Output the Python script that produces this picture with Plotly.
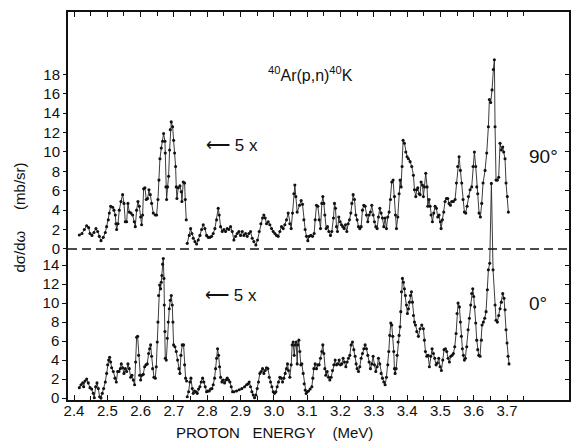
import plotly.graph_objects as go

# ---- data: 90 degree excitation function (top panel) ----
SEG90_A = [(2.416,1.44),(2.424,1.6),(2.431,2.0),(2.438,2.4),(2.444,2.2),(2.448,1.6),(2.454,1.4),(2.46,1.7),(2.466,2.1),(2.471,1.8),(2.476,1.3),(2.481,0.86),(2.488,1.2),(2.494,1.7),(2.498,2.3),(2.503,3.0),(2.506,3.7),(2.51,4.4),(2.516,4.3),(2.52,4.0),(2.524,3.5),(2.526,2.6),(2.528,2.0),(2.532,2.6),(2.536,4.0),(2.541,4.9),(2.546,5.6),(2.55,4.7),(2.554,2.8),(2.558,2.8),(2.562,4.7),(2.566,3.8),(2.571,3.7),(2.576,3.5),(2.581,2.8),(2.584,2.3),(2.588,4.0),(2.592,4.9),(2.596,4.4),(2.6,3.3),(2.603,2.5),(2.606,3.5),(2.609,6.2),(2.613,6.3),(2.617,5.1),(2.621,5.2),(2.625,6.1),(2.629,5.6),(2.633,4.7),(2.638,3.7),(2.644,3.5),(2.648,3.5),(2.652,5.1),(2.655,7.1),(2.658,9.3),(2.662,10.4),(2.666,11.1),(2.669,11.9),(2.673,11.1),(2.674,9.9),(2.676,6.4),(2.678,5.1),(2.681,6.4),(2.684,7.5),(2.687,10.2),(2.689,12.3),(2.692,13.1),(2.696,12.6),(2.699,11.2),(2.702,9.9),(2.705,8.5),(2.707,6.4),(2.709,5.2),(2.713,6.3),(2.718,6.5),(2.722,5.9),(2.724,4.9),(2.728,6.9),(2.732,6.8),(2.734,5.1),(2.737,3.0)]

SEG90_B = [(2.74,0.58),(2.746,1.4),(2.75,2.1),(2.754,1.6),(2.758,1.1),(2.763,0.76),(2.768,0.52),(2.773,0.93),(2.778,1.4),(2.783,2.0),(2.788,2.5),(2.793,2.1),(2.798,1.4),(2.803,1.2),(2.808,1.2),(2.813,1.3),(2.818,1.6),(2.823,2.1),(2.828,3.0),(2.833,4.2),(2.836,3.5),(2.84,2.3),(2.845,1.8),(2.85,2.0),(2.855,1.8),(2.86,2.1),(2.865,2.0),(2.87,2.3),(2.875,1.8),(2.88,0.93),(2.885,1.3),(2.89,1.6),(2.895,1.8),(2.9,1.4),(2.905,1.8),(2.91,1.4),(2.915,1.6),(2.92,1.3),(2.925,1.6),(2.93,1.8),(2.935,1.1),(2.94,0.76),(2.946,0.41),(2.951,0.93),(2.956,1.8),(2.961,2.6),(2.966,3.2),(2.97,3.5),(2.974,3.2),(2.978,2.6),(2.983,2.8),(2.988,2.5),(2.993,2.1),(2.998,1.8),(3.003,1.6),(3.008,1.4),(3.013,1.3),(3.018,1.8),(3.023,2.3),(3.028,2.1),(3.033,2.5),(3.038,3.0),(3.043,3.7),(3.048,2.6),(3.052,2.1),(3.056,3.7),(3.06,5.7),(3.063,6.6),(3.066,5.4),(3.07,3.8),(3.077,4.5),(3.082,5.0),(3.086,4.6),(3.09,3.0),(3.094,2.0),(3.098,1.3),(3.102,0.86),(3.106,1.3),(3.111,1.4),(3.116,1.3),(3.121,1.6),(3.124,3.0),(3.128,4.5),(3.132,4.4),(3.136,3.0),(3.14,2.1),(3.144,4.7),(3.147,5.4),(3.15,4.7),(3.153,3.5),(3.157,2.1),(3.161,2.3),(3.165,1.8),(3.17,1.4),(3.174,1.8),(3.179,3.2),(3.182,4.7),(3.185,4.2),(3.188,2.3),(3.191,1.8),(3.195,3.3),(3.199,2.8),(3.203,2.5),(3.207,2.3),(3.211,2.1),(3.215,2.5),(3.219,1.8),(3.223,2.6),(3.227,3.0),(3.231,3.7),(3.234,4.7),(3.238,5.6),(3.242,5.1),(3.246,3.5),(3.25,3.0),(3.254,2.3),(3.258,2.1),(3.262,2.3),(3.266,4.0),(3.27,4.5),(3.274,4.4),(3.278,3.5),(3.282,2.8),(3.286,3.5),(3.29,3.8),(3.294,4.5),(3.298,3.5),(3.302,2.8),(3.306,2.3),(3.31,2.1),(3.314,3.3),(3.318,4.2),(3.322,3.7),(3.326,3.2),(3.33,2.3),(3.334,3.2),(3.338,2.1),(3.342,3.3),(3.346,3.8),(3.35,5.1),(3.354,6.9),(3.358,7.1),(3.362,5.4),(3.365,3.5),(3.368,2.1),(3.372,3.3),(3.376,5.7),(3.379,7.1),(3.382,6.4),(3.385,8.5),(3.388,11.2),(3.392,10.9),(3.396,10.0),(3.4,9.5),(3.404,9.3),(3.409,9.0),(3.414,8.5),(3.419,7.6),(3.422,6.1),(3.426,5.4),(3.429,6.1),(3.432,6.3),(3.436,5.7),(3.439,5.6),(3.442,6.9),(3.446,6.6),(3.449,5.4),(3.452,6.4),(3.456,7.8),(3.46,6.4),(3.462,4.4),(3.466,5.1),(3.469,4.4),(3.472,3.5),(3.476,2.8),(3.48,3.7),(3.484,4.4),(3.488,4.2),(3.492,3.3),(3.496,3.5),(3.5,2.8),(3.502,2.1),(3.506,3.0),(3.51,3.8),(3.514,4.9),(3.518,5.2),(3.522,5.2),(3.526,4.7),(3.53,4.5),(3.534,4.9),(3.539,4.9),(3.544,5.1),(3.548,6.8),(3.552,8.5),(3.556,9.5),(3.56,8.1),(3.564,6.8),(3.568,5.1),(3.572,3.8),(3.576,3.7),(3.58,4.4),(3.584,5.4),(3.589,6.1),(3.594,6.4),(3.598,8.5),(3.602,10.0),(3.606,8.5),(3.609,6.4),(3.612,5.7),(3.616,3.7),(3.62,3.3),(3.624,4.7),(3.628,6.8),(3.634,8.1),(3.639,9.9),(3.644,12.6),(3.647,15.4),(3.651,15.1),(3.655,16.4),(3.659,18.5),(3.662,19.5),(3.664,12.6),(3.667,7.1),(3.671,7.1),(3.675,7.4),(3.679,10.9),(3.683,10.2),(3.687,10.5),(3.69,10.0),(3.694,9.3),(3.697,6.8),(3.701,5.4),(3.704,3.8)]

# ---- data: 0 degree excitation function (bottom panel) ----
SEG0_A = [(2.416,1.1),(2.421,1.4),(2.426,1.6),(2.429,1.2),(2.433,1.8),(2.438,2.0),(2.443,1.6),(2.448,1.1),(2.453,0.95),(2.458,0.5),(2.461,0.04),(2.465,1.2),(2.469,1.6),(2.473,1.0),(2.477,0.14),(2.481,0.0),(2.485,0.5),(2.489,1.0),(2.494,1.7),(2.498,2.6),(2.501,3.5),(2.504,4.0),(2.507,4.3),(2.51,3.8),(2.513,3.2),(2.518,2.8),(2.523,2.1),(2.527,1.7),(2.531,2.8),(2.535,2.8),(2.539,3.1),(2.542,3.6),(2.546,3.2),(2.55,2.6),(2.554,3.1),(2.558,2.8),(2.562,3.6),(2.566,3.1),(2.57,2.2),(2.574,2.4),(2.578,1.9),(2.582,1.4),(2.585,3.8),(2.588,6.4),(2.591,6.5),(2.594,4.5),(2.597,2.4),(2.6,1.9),(2.604,2.4),(2.608,2.5),(2.612,3.3),(2.616,3.5),(2.62,3.6),(2.624,4.7),(2.627,5.2),(2.63,5.6),(2.633,4.4),(2.636,3.1),(2.64,2.2),(2.644,2.1),(2.647,3.3),(2.65,5.9),(2.652,8.0),(2.654,10.8),(2.657,11.9),(2.66,11.5),(2.662,12.2),(2.664,12.9),(2.666,14.1),(2.668,14.7),(2.67,12.6),(2.671,9.8),(2.673,7.0),(2.674,4.2),(2.677,4.0),(2.68,6.3),(2.683,8.0),(2.686,9.4),(2.689,10.3),(2.692,10.8),(2.695,9.8),(2.697,8.0),(2.699,5.6),(2.703,5.4),(2.707,4.9),(2.711,4.0),(2.715,3.1),(2.718,2.6),(2.721,4.5),(2.725,5.6),(2.729,5.6),(2.732,3.5),(2.735,2.1),(2.738,1.8)]

SEG0_B = [(2.74,0.14),(2.744,0.67),(2.748,1.7),(2.751,2.1),(2.755,1.0),(2.758,0.5),(2.762,0.74),(2.766,0.67),(2.77,0.5),(2.774,0.95),(2.778,1.2),(2.782,1.7),(2.786,2.1),(2.79,1.7),(2.794,1.2),(2.798,0.67),(2.802,0.74),(2.806,0.74),(2.81,0.95),(2.814,1.0),(2.818,1.4),(2.822,2.1),(2.825,3.1),(2.828,4.2),(2.831,5.2),(2.834,4.5),(2.837,3.3),(2.84,2.2),(2.844,1.7),(2.848,1.9),(2.852,1.6),(2.856,1.9),(2.86,2.1),(2.864,1.9),(2.868,1.7),(2.872,1.2),(2.876,0.67),(2.88,0.67),(2.888,0.74),(2.896,0.88),(2.904,1.0),(2.912,1.2),(2.918,1.4),(2.923,1.5),(2.926,1.7),(2.93,1.2),(2.934,0.67),(2.938,0.32),(2.942,0.04),(2.946,0.32),(2.95,1.0),(2.954,1.7),(2.958,2.6),(2.962,2.8),(2.966,3.1),(2.97,2.6),(2.974,2.9),(2.978,3.2),(2.982,3.1),(2.986,2.2),(2.99,1.7),(2.994,1.2),(2.998,0.67),(3.002,0.5),(3.006,0.67),(3.01,1.2),(3.014,1.7),(3.018,2.2),(3.022,2.1),(3.026,1.7),(3.03,2.1),(3.034,2.6),(3.038,3.1),(3.041,3.6),(3.044,2.9),(3.048,2.2),(3.052,3.5),(3.055,5.6),(3.058,5.9),(3.061,4.5),(3.064,5.6),(3.067,5.9),(3.07,3.6),(3.072,5.6),(3.075,6.1),(3.078,4.9),(3.081,3.5),(3.084,3.6),(3.088,2.6),(3.091,1.5),(3.094,0.84),(3.097,0.49),(3.1,0.67),(3.104,0.74),(3.109,0.95),(3.114,1.2),(3.117,2.1),(3.12,3.1),(3.124,3.6),(3.128,3.1),(3.132,3.5),(3.136,3.5),(3.14,4.2),(3.144,4.9),(3.147,5.6),(3.15,4.7),(3.153,3.1),(3.156,2.4),(3.16,2.8),(3.164,2.2),(3.168,1.9),(3.172,2.2),(3.176,2.9),(3.18,3.5),(3.184,4.0),(3.188,3.5),(3.192,3.6),(3.196,4.0),(3.2,3.5),(3.204,3.6),(3.208,4.2),(3.212,3.8),(3.216,3.3),(3.22,3.8),(3.224,4.2),(3.228,4.5),(3.232,5.6),(3.236,5.9),(3.24,5.1),(3.244,4.4),(3.247,3.6),(3.25,3.1),(3.254,2.8),(3.258,3.3),(3.262,4.2),(3.266,4.7),(3.27,5.2),(3.274,5.6),(3.278,5.2),(3.282,4.5),(3.286,3.8),(3.29,3.1),(3.294,3.6),(3.298,4.4),(3.302,3.5),(3.306,2.8),(3.31,3.3),(3.314,4.2),(3.318,3.6),(3.322,2.6),(3.326,2.1),(3.33,1.7),(3.334,1.4),(3.338,2.2),(3.342,3.5),(3.345,4.9),(3.348,6.6),(3.351,7.9),(3.354,7.7),(3.357,6.5),(3.36,4.9),(3.362,3.1),(3.364,2.6),(3.367,3.1),(3.37,4.5),(3.373,5.9),(3.376,6.6),(3.379,7.5),(3.381,9.1),(3.383,11.2),(3.386,12.6),(3.389,12.2),(3.392,11.5),(3.395,10.8),(3.398,9.8),(3.401,8.9),(3.404,9.4),(3.407,10.1),(3.41,10.8),(3.413,11.2),(3.416,10.1),(3.419,8.7),(3.422,8.0),(3.425,7.7),(3.429,7.0),(3.434,6.5),(3.439,7.3),(3.444,7.7),(3.449,7.3),(3.452,6.1),(3.455,4.9),(3.459,4.4),(3.463,4.5),(3.467,3.3),(3.471,4.4),(3.475,5.2),(3.479,4.7),(3.483,4.2),(3.487,3.5),(3.491,3.7),(3.495,4.2),(3.499,3.3),(3.503,2.9),(3.507,4.0),(3.511,5.1),(3.515,5.2),(3.519,4.9),(3.523,4.2),(3.527,3.8),(3.531,4.4),(3.535,4.5),(3.539,4.7),(3.543,5.4),(3.547,6.8),(3.55,8.9),(3.553,10.0),(3.557,9.6),(3.56,8.0),(3.563,6.5),(3.566,5.2),(3.569,4.5),(3.572,4.0),(3.575,4.2),(3.579,5.4),(3.583,7.2),(3.587,8.4),(3.591,9.8),(3.594,11.0),(3.597,11.5),(3.6,10.7),(3.603,9.6),(3.606,7.9),(3.609,6.1),(3.612,5.1),(3.615,4.5),(3.619,4.4),(3.623,6.1),(3.625,7.7),(3.629,8.0),(3.633,8.4),(3.637,9.1),(3.641,11.4),(3.644,13.5),(3.648,14.2),(3.653,22.6),(3.658,13.5),(3.664,9.8),(3.667,8.2),(3.671,8.0),(3.675,8.7),(3.679,9.4),(3.683,10.1),(3.687,11.0),(3.691,10.5),(3.694,9.3),(3.697,7.2),(3.7,5.8),(3.703,4.4),(3.706,3.6)]

X_TICKS = [2.4, 2.5, 2.6, 2.7, 2.8, 2.9, 3.0, 3.1, 3.2, 3.3, 3.4, 3.5, 3.6, 3.7]
X_TICK_TEXT = ["2.4", "2.5", "2.6", "2.7", "2.8", "2.9", "3.0", "3.1", "3.2", "3.3", "3.4", "3.5", "3.6", "3.7"]
X_MINOR = [2.45, 2.55, 2.65, 2.75, 2.85, 2.95, 3.05, 3.15, 3.25, 3.35, 3.45, 3.55, 3.65, 3.75]
Y0_TICKS = [0, 2, 4, 6, 8, 10, 12, 14]
Y90_TICKS = [0, 2, 4, 6, 8, 10, 12, 14, 16, 18]

FONT = "Liberation Sans"
INK = "#111111"
X_RANGE = [2.382, 3.886]
Y0_RANGE = [-0.2, 40.64]
Y90_RANGE = [-15.57, 24.43]

fig = go.Figure()

def add_seg(seg, yaxis):
    xs = [p[0] for p in seg]
    ys = [p[1] for p in seg]
    fig.add_trace(go.Scatter(
        x=xs, y=ys, yaxis=yaxis, mode="lines+markers",
        line=dict(color="#262626", width=0.9),
        marker=dict(color=INK, size=3.1),
        showlegend=False, hoverinfo="skip", cliponaxis=False))

add_seg(SEG90_A, "y2")
add_seg(SEG90_B, "y2")
add_seg(SEG0_A, "y")
add_seg(SEG0_B, "y")

# dummy traces so the extra tick-only axes get drawn
fig.add_trace(go.Scatter(x=[None], y=[None], xaxis="x2", yaxis="y", showlegend=False, hoverinfo="skip"))
fig.add_trace(go.Scatter(x=[None], y=[None], yaxis="y3", showlegend=False, hoverinfo="skip"))
fig.add_trace(go.Scatter(x=[None], y=[None], yaxis="y4", showlegend=False, hoverinfo="skip"))

base = dict(showgrid=False, zeroline=False, automargin=False, tickcolor=INK,
            tickfont=dict(family=FONT, size=15, color=INK))

fig.update_layout(
    template="none",
    width=571, height=442,
    margin=dict(l=68, r=2, t=12, b=42, pad=0),
    paper_bgcolor="white", plot_bgcolor="white",
    showlegend=False,
    xaxis=dict(range=X_RANGE, tickvals=X_TICKS, ticktext=X_TICK_TEXT,
               ticks="inside", ticklen=5, tickwidth=1,
               showline=True, linecolor=INK, linewidth=1.5, mirror=True,
               ticklabelstandoff=-4,
               minor=dict(tickvals=X_MINOR, ticks="inside", ticklen=4, tickcolor=INK, tickwidth=1),
               **base),
    xaxis2=dict(range=X_RANGE, overlaying="x", side="top", tickvals=X_TICKS,
                ticks="inside", ticklen=5, tickwidth=1, showticklabels=False, showline=False,
                minor=dict(tickvals=X_MINOR, ticks="inside", ticklen=4, tickcolor=INK, tickwidth=1),
                **base),
    yaxis=dict(range=Y0_RANGE, tickvals=Y0_TICKS, ticks="outside", ticklen=4, tickwidth=1,
               showline=True, linecolor=INK, linewidth=1.5, mirror=True, **base),
    yaxis2=dict(range=Y90_RANGE, tickvals=Y90_TICKS, ticks="outside", ticklen=4, tickwidth=1,
                overlaying="y", side="left", showline=False, **base),
    yaxis3=dict(range=Y0_RANGE, tickvals=Y0_TICKS[1:], ticks="inside", ticklen=4, tickwidth=1,
                overlaying="y", side="right", showline=False, showticklabels=False, **base),
    yaxis4=dict(range=Y90_RANGE, tickvals=Y90_TICKS[1:], ticks="inside", ticklen=4, tickwidth=1,
                overlaying="y", side="right", showline=False, showticklabels=False, **base),
)

# dashed zero line of the upper panel
fig.add_shape(type="line", xref="paper", x0=0, x1=1, yref="y2", y0=0, y1=0,
              line=dict(color=INK, width=1.4, dash="9px,5px"))

ann_font = dict(family=FONT, color=INK)
fig.add_annotation(x=3.109, y=18.0, xref="x", yref="y2", showarrow=False,
                   text="<sup>40</sup>Ar(p,n)<sup>40</sup>K", font=dict(size=16, **ann_font))
fig.add_annotation(x=2.874, y=10.7, xref="x", yref="y2", showarrow=False,
                   text="\u27f5\u00a05\u00a0x", font=dict(size=17, **ann_font))
fig.add_annotation(x=2.871, y=10.8, xref="x", yref="y", showarrow=False,
                   text="\u27f5\u00a05\u00a0x", font=dict(size=17, **ann_font))
fig.add_annotation(x=3.808, y=9.5, xref="x", yref="y2", showarrow=False,
                   text="90\u00b0", font=dict(size=19, **ann_font))
fig.add_annotation(x=3.794, y=10.0, xref="x", yref="y", showarrow=False,
                   text="0\u00b0", font=dict(size=19, **ann_font))
fig.add_annotation(x=-0.096, y=0.47, xref="paper", yref="paper", showarrow=False,
                   xanchor="center", yanchor="middle",
                   textangle=-90, text="d\u03c3/d\u03c9\u00a0\u00a0\u00a0\u00a0\u00a0(mb/sr)",
                   font=dict(size=15, **ann_font))
fig.add_annotation(x=0.413, y=-0.085, xref="paper", yref="paper", showarrow=False,
                   xanchor="center", yanchor="middle",
                   text="PROTON\u00a0\u00a0\u00a0ENERGY\u00a0\u00a0\u00a0\u00a0(MeV)",
                   font=dict(size=15, **ann_font))

fig.write_html("out.html", config={"displayModeBar": False},
               post_script="document.body.style.margin='0px';document.body.style.padding='0px';")
